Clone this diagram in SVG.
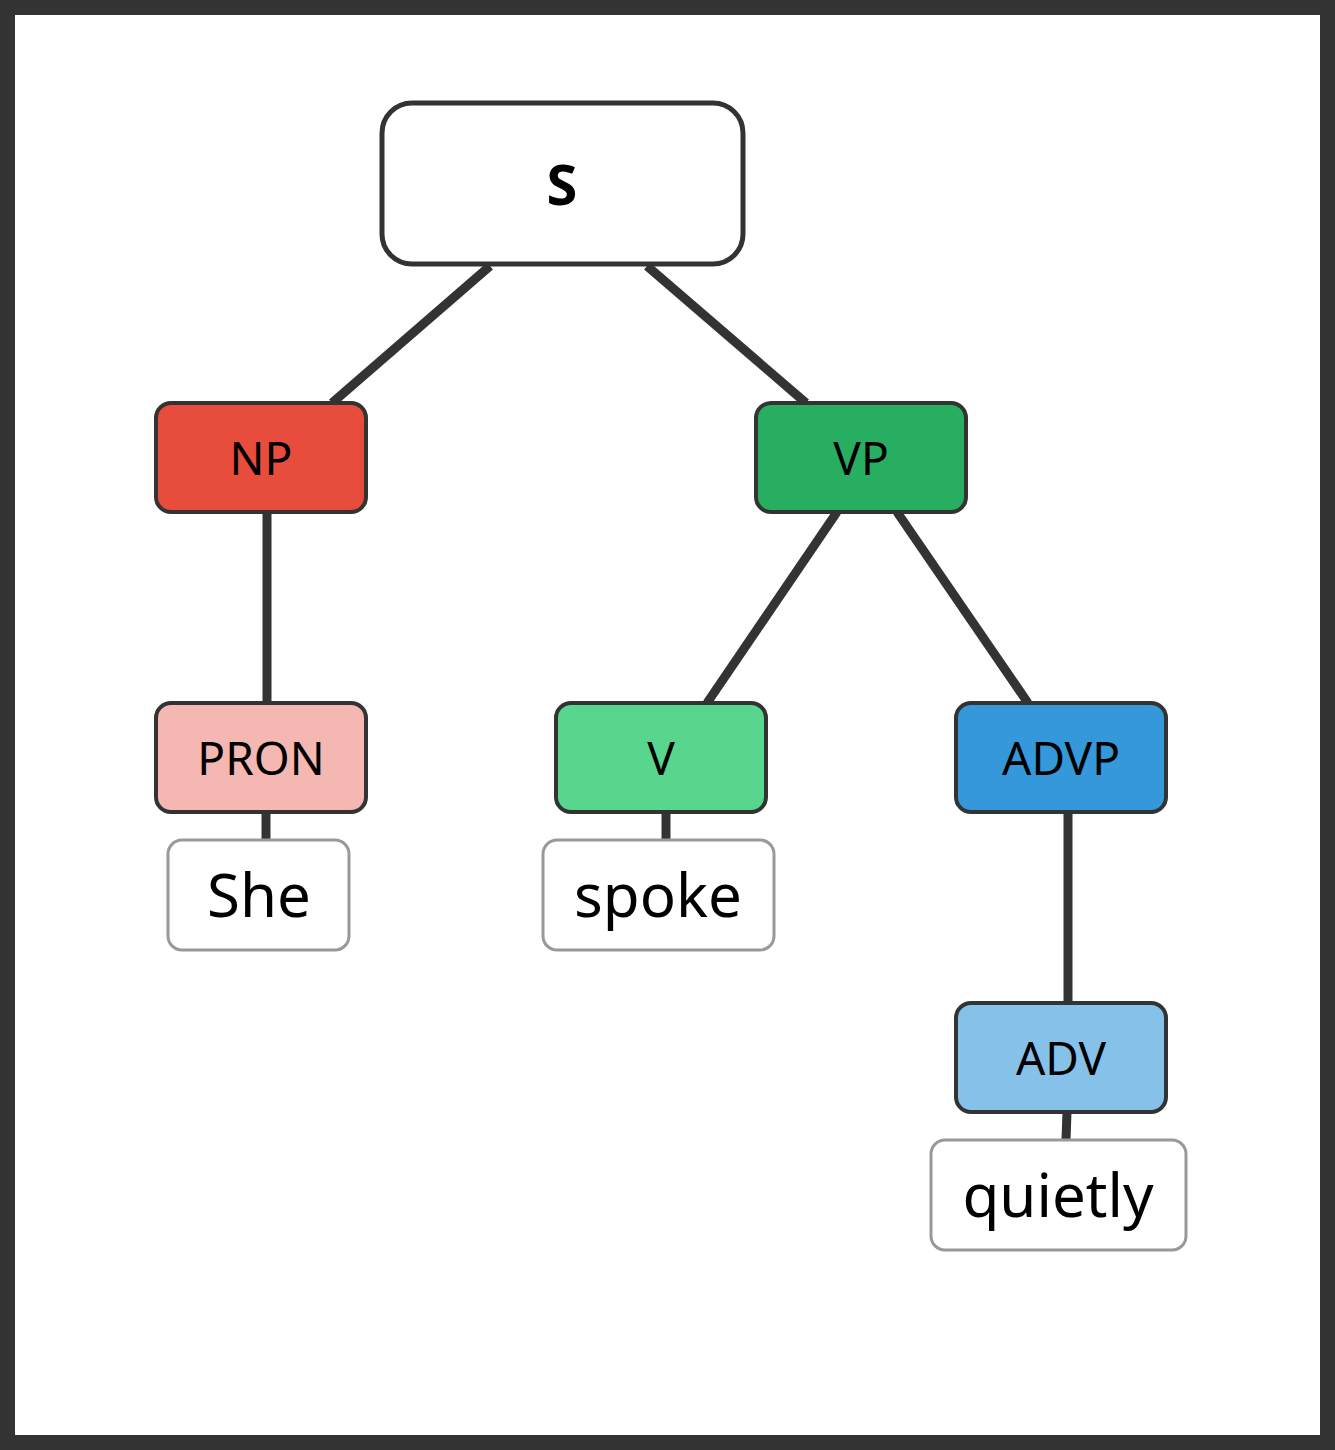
<svg xmlns="http://www.w3.org/2000/svg" width="1335" height="1450" viewBox="0 0 1335 1450">
<style>
.n{stroke:#333;stroke-width:4}
.w{fill:#fff;stroke:#999;stroke-width:3}
.t{font-family:"Noto Sans","Open Sans",sans-serif;font-size:46px;fill:#000;text-anchor:middle;dominant-baseline:central}
.tw{font-family:"Noto Sans","Open Sans",sans-serif;font-size:60px;fill:#000;text-anchor:middle;dominant-baseline:central}
#edges line{stroke:#333;stroke-width:9}
</style>
<rect x="7.5" y="7.5" width="1320" height="1435" fill="#fff" stroke="#333" stroke-width="15"/>
<g id="edges">
<line x1="490" y1="266" x2="332" y2="403"/>
<line x1="647" y1="266" x2="806" y2="403"/>
<line x1="267" y1="512" x2="267" y2="703"/>
<line x1="837" y1="512" x2="707" y2="703"/>
<line x1="897" y1="512" x2="1028" y2="703"/>
<line x1="266" y1="812" x2="266" y2="840"/>
<line x1="666" y1="812" x2="666" y2="840"/>
<line x1="1068" y1="812" x2="1068" y2="1003"/>
<line x1="1067" y1="1112" x2="1066" y2="1140"/>
</g>
<g id="S"><rect x="382" y="103" width="361" height="161" rx="30" fill="#fff" stroke="#333" stroke-width="5"/><text x="562" y="183" class="t" style="font-weight:bold;font-size:56px">S</text></g>
<g id="NP"><rect class="n" x="156" y="403" width="210" height="109" rx="15" fill="#e74c3c"/><text x="261" y="457" class="t">NP</text></g>
<g id="VP"><rect class="n" x="756" y="403" width="210" height="109" rx="15" fill="#27ae60"/><text x="861" y="457" class="t">VP</text></g>
<g id="PRON"><rect class="n" x="156" y="703" width="210" height="109" rx="15" fill="#f5b7b1"/><text x="261" y="757" class="t">PRON</text></g>
<g id="V"><rect class="n" x="556" y="703" width="210" height="109" rx="15" fill="#58d68d"/><text x="661" y="757" class="t">V</text></g>
<g id="ADVP"><rect class="n" x="956" y="703" width="210" height="109" rx="15" fill="#3498db"/><text x="1061" y="757" class="t">ADVP</text></g>
<g id="ADV"><rect class="n" x="956" y="1003" width="210" height="109" rx="15" fill="#85c1e9"/><text x="1061" y="1057" class="t">ADV</text></g>
<g id="She"><rect class="w" x="168" y="840" width="181" height="110" rx="14"/><text x="259" y="894" class="tw">She</text></g>
<g id="spoke"><rect class="w" x="543" y="840" width="231" height="110" rx="14"/><text x="658" y="894" class="tw">spoke</text></g>
<g id="quietly"><rect class="w" x="931" y="1140" width="255" height="110" rx="14"/><text x="1058" y="1194" class="tw">quietly</text></g>
</svg>
